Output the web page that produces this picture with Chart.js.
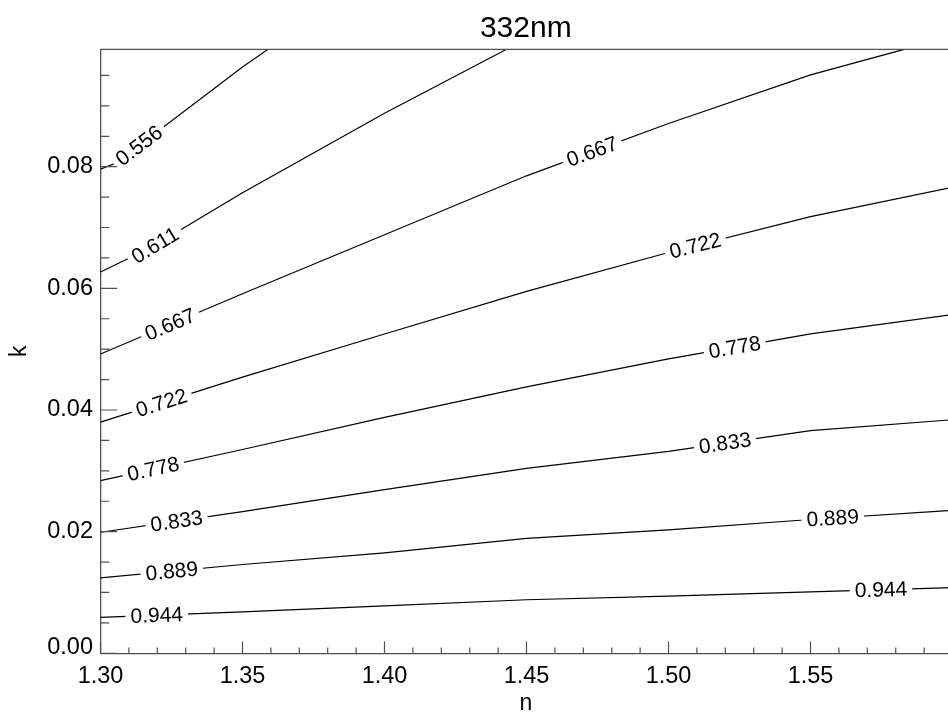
<!DOCTYPE html>
<html>
<head>
<meta charset="utf-8">
<title>332nm contour</title>
<script src="https://cdn.jsdelivr.net/npm/chart.js@4.4.1/dist/chart.umd.min.js"></script>
<style>
  html, body { margin: 0; padding: 0; background: #fff; overflow: hidden; }
  #wrap { width: 948px; height: 719px; overflow: hidden; }
  canvas { display: block; }
</style>
</head>
<body>
<div id="wrap"><canvas id="c" width="960" height="719"></canvas></div>
<script>
// Contour levels of the quantity plotted over refractive index n and absorption k.
const levels = ['0.556', '0.611', '0.667', '0.722', '0.778', '0.833', '0.889', '0.944'];

// n sampling of the grid; lines that leave through the top stop at the last n listed.
const nGrid = [1.30, 1.35, 1.40, 1.45, 1.50, 1.55, 1.60];
const n556 = [1.30, 1.3055, 1.35, 1.359];
const n611 = [1.30, 1.3178, 1.35, 1.40, 1.443];
const n667 = [1.30, 1.35, 1.40, 1.45, 1.50, 1.55, 1.583];

// k of each contour at the n values above.
const k556 = [0.0796, 0.0806, 0.0964, 0.0993];
const k611 = [0.0627, 0.0667, 0.0757, 0.0888, 0.0993];
const k667 = [0.0492, 0.0591, 0.0688, 0.0785, 0.0871, 0.0951, 0.0993];
const k722 = [0.0380, 0.0454, 0.0525, 0.0595, 0.0659, 0.0718, 0.0766];
const k778 = [0.0284, 0.0335, 0.0388, 0.0438, 0.0484, 0.0525, 0.0557];
const k833 = [0.0199, 0.0233, 0.0269, 0.0304, 0.0332, 0.0366, 0.0384];
const k889 = [0.0124, 0.0146, 0.0165, 0.0189, 0.0203, 0.0220, 0.0235];
const k944 = [0.0059, 0.0068, 0.0078, 0.0088, 0.0094, 0.0101, 0.0108];

// Where each level label sits along its line (n value of the label centre).
const labelSpots = [
  ['0.556', 1.3136],
  ['0.611', 1.3192],
  ['0.667', 1.3245], ['0.667', 1.4731],
  ['0.722', 1.3215], ['0.722', 1.5094],
  ['0.778', 1.3186], ['0.778', 1.5233],
  ['0.833', 1.3268], ['0.833', 1.5199],
  ['0.889', 1.3251], ['0.889', 1.5578],
  ['0.944', 1.3198], ['0.944', 1.5748]
];

// Axis ranges and tick steps.
const nMin = 1.30, nMax = 1.5995;
const kMin = 0.0, kMax = 0.0993;
const nMajor = 0.05, nMinor = 0.01;
const kMajor = 0.02, kMinor = 0.005;

const FONT = '"Liberation Sans", Arial, Helvetica, sans-serif';
const AXIS_COLOR = '#505050';
const TICK_SIZE = 23.5;

const lines = [
  [n556, k556], [n611, k611], [n667, k667], [nGrid, k722],
  [nGrid, k778], [nGrid, k833], [nGrid, k889], [nGrid, k944]
];

const datasets = lines.map(([ns, ks], i) => ({
  label: levels[i],
  data: ns.map((n, j) => ({ x: n, y: ks[j] })),
  showLine: true,
  borderColor: '#000',
  borderWidth: 1.2,
  pointRadius: 0,
  pointHoverRadius: 0,
  tension: 0,
  fill: false
}));

// Inward major/minor tick marks plus the top frame line.
const frameTicks = {
  id: 'frameTicks',
  afterDraw(chart) {
    const { ctx, chartArea: a, scales: { x, y } } = chart;
    ctx.save();
    ctx.strokeStyle = AXIS_COLOR;
    ctx.lineWidth = 1.2;
    ctx.beginPath();
    const nCount = Math.round((nMax - nMin) / nMinor);
    for (let i = 0; i <= nCount; i++) {
      const v = nMin + i * nMinor;
      if (v > nMax + 1e-9) break;
      const px = x.getPixelForValue(v);
      const len = (i % Math.round(nMajor / nMinor) === 0) ? 11.7 : 5.8;
      ctx.moveTo(px, a.bottom);
      ctx.lineTo(px, a.bottom - len);
    }
    const kCount = Math.round((kMax - kMin) / kMinor) + 1;
    for (let i = 0; i <= kCount; i++) {
      const v = kMin + i * kMinor;
      if (v > kMax + 1e-9) break;
      const py = y.getPixelForValue(v);
      const len = (i % Math.round(kMajor / kMinor) === 0) ? 16.7 : 8.8;
      ctx.moveTo(a.left, py);
      ctx.lineTo(a.left + len, py);
    }
    ctx.stroke();
    ctx.lineWidth = 1.3;
    ctx.beginPath();
    ctx.moveTo(a.left, a.top);
    ctx.lineTo(a.right, a.top);
    ctx.stroke();
    ctx.restore();
  }
};

// Level labels written along the contour lines, with a gap cut in the line.
const contourLabels = {
  id: 'contourLabels',
  afterDatasetsDraw(chart) {
    const { ctx, scales: { x } } = chart;
    ctx.save();
    ctx.font = '21px ' + FONT;
    ctx.textAlign = 'center';
    ctx.textBaseline = 'middle';
    labelSpots.forEach(([level, n]) => {
      const pts = chart.getDatasetMeta(levels.indexOf(level)).data;
      const px = x.getPixelForValue(n);
      for (let i = 0; i < pts.length - 1; i++) {
        const p = pts[i], q = pts[i + 1];
        if (px >= p.x && px <= q.x) {
          const t = (px - p.x) / (q.x - p.x);
          const py = p.y + t * (q.y - p.y);
          const ang = Math.atan2(q.y - p.y, q.x - p.x);
          const w = ctx.measureText(level).width;
          ctx.save();
          ctx.translate(px, py);
          ctx.rotate(ang);
          ctx.fillStyle = '#fff';
          ctx.fillRect(-w / 2 - 5, -5, w + 10, 10);
          ctx.fillStyle = '#000';
          ctx.fillText(level, 0, 1);
          ctx.restore();
          break;
        }
      }
    });
    ctx.restore();
  }
};

Chart.defaults.font.family = FONT;
Chart.defaults.color = '#000';

new Chart(document.getElementById('c'), {
  type: 'scatter',
  data: { datasets },
  options: {
    responsive: false,
    animation: false,
    devicePixelRatio: 1,
    events: [],
    layout: { padding: { left: 0, right: 8.9, top: 0, bottom: 0 } },
    plugins: {
      legend: { display: false },
      tooltip: { enabled: false },
      title: {
        display: true,
        text: '332nm',
        fullSize: false,
        color: '#000',
        font: { size: 30, weight: 'normal', family: FONT },
        padding: { top: 11, bottom: 2.3 }
      }
    },
    scales: {
      x: {
        type: 'linear',
        min: nMin,
        max: nMax,
        afterFit(scale) { scale.height = 65.7; },
        grid: { display: false, drawTicks: false },
        border: { display: true, color: AXIS_COLOR, width: 1.3 },
        ticks: {
          stepSize: nMajor,
          includeBounds: false,
          autoSkip: false,
          maxRotation: 0,
          padding: 9,
          color: '#000',
          font: { size: TICK_SIZE },
          callback: v => v.toFixed(2)
        },
        title: { display: true, text: 'n', color: '#000', font: { size: 23 }, padding: { top: 0, bottom: 1.3 } }
      },
      y: {
        type: 'linear',
        min: kMin,
        max: kMax,
        afterFit(scale) { scale.width = 100.5; },
        grid: { display: false, drawTicks: false },
        border: { display: true, color: AXIS_COLOR, width: 1.3 },
        ticks: {
          stepSize: kMajor,
          includeBounds: false,
          autoSkip: false,
          padding: 7.5,
          color: '#000',
          // the lowest label is lifted a little clear of the n axis labels
          font: c => (c.tick && c.tick.value === 0)
            ? { size: TICK_SIZE, lineHeight: '12px' }
            : { size: TICK_SIZE },
          callback: v => v === 0 ? ['0.00', ''] : v.toFixed(2)
        },
        title: { display: true, text: 'k', color: '#000', font: { size: 23 }, padding: { top: 6.2, bottom: 0 } }
      }
    }
  },
  plugins: [frameTicks, contourLabels]
});
</script>
</body>
</html>
